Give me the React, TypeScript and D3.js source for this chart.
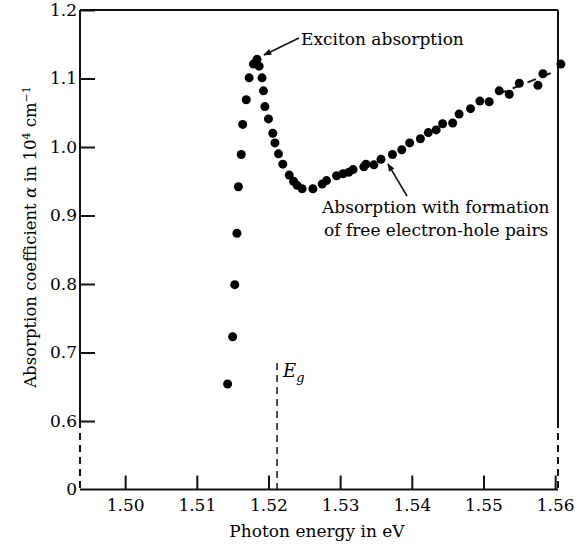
import React, { useEffect, useRef } from 'react';
import * as d3 from 'd3';

// photon energy (eV) and absorption coefficient (10^4 cm^-1)
const energy = [
  1.5143, 1.5150, 1.5153, 1.5156, 1.5158, 1.5162, 1.5164, 1.5169, 1.5173, 1.5179, 1.5184, 1.5187,
  1.5191, 1.5193, 1.5195, 1.5200, 1.5206, 1.5209, 1.5214, 1.5220, 1.5229, 1.5235, 1.5240, 1.5247,
  1.5262, 1.5275, 1.5281, 1.5295, 1.5304, 1.5312, 1.5318, 1.5333, 1.5336, 1.5347, 1.5357, 1.5373,
  1.5386, 1.5397, 1.5412, 1.5423, 1.5434, 1.5443, 1.5457, 1.5466, 1.5482, 1.5495, 1.5508, 1.5522,
  1.5536, 1.5550, 1.5576, 1.5583, 1.5608,
];
const alpha = [
  0.654, 0.723, 0.799, 0.874, 0.942, 0.989, 1.033, 1.069, 1.101, 1.121, 1.128, 1.118,
  1.101, 1.082, 1.059, 1.041, 1.020, 1.006, 0.990, 0.975, 0.959, 0.950, 0.944, 0.939,
  0.939, 0.946, 0.951, 0.958, 0.961, 0.963, 0.967, 0.971, 0.975, 0.974, 0.982, 0.989,
  0.996, 1.006, 1.012, 1.021, 1.025, 1.034, 1.035, 1.048, 1.056, 1.067, 1.066, 1.082,
  1.077, 1.093, 1.090, 1.107, 1.121,
];
const xTicks = [1.50, 1.51, 1.52, 1.53, 1.54, 1.55, 1.56];
const yTicks = [0.6, 0.7, 0.8, 0.9, 1.0, 1.1, 1.2];
const yBreak = 0.5; // axis is broken below 0.6, this level is labelled "0"
const gapEnergy = 1.5212;
const fitEnergy = [1.5520, 1.5604];
const fitAlpha = [1.077, 1.112];

const W = 587, H = 549;
const FONT = "'DejaVu Serif', serif";

export default function App() {
  const ref = useRef<SVGSVGElement>(null);

  useEffect(() => {
    const svg = d3.select(ref.current);
    svg.selectAll('*').remove();

    const left = 80, right = 558, top = 10, bottom = 489.5;
    const x = d3.scaleLinear().domain([1.4937, 1.5604]).range([left, right]);
    const y = d3.scaleLinear().domain([yBreak, 1.2]).range([bottom, top]);
    const ink = '#111';

    // frame: solid above 0.6, dashed through the break
    const frame = svg.append('g').attr('stroke', ink).attr('stroke-width', 2).attr('fill', 'none');
    frame.append('line').attr('x1', left).attr('x2', right).attr('y1', top).attr('y2', top);
    frame.append('line').attr('x1', left).attr('x2', right).attr('y1', bottom).attr('y2', bottom);
    [left, right].forEach(px => {
      frame.append('line').attr('x1', px).attr('x2', px).attr('y1', top).attr('y2', y(0.6));
      frame.append('line').attr('x1', px).attr('x2', px).attr('y1', y(0.6)).attr('y2', bottom)
        .attr('stroke-dasharray', '7,5');
    });

    const xAxis = svg.append('g')
      .attr('transform', 'translate(0,' + bottom + ')')
      .call(d3.axisBottom(x).tickValues(xTicks).tickFormat(d3.format('.2f')).tickSize(-14).tickPadding(9));
    const yAxis = svg.append('g')
      .attr('transform', 'translate(' + left + ',0)')
      .call(d3.axisLeft(y).tickValues(yTicks).tickFormat(d3.format('.1f')).tickSize(-15).tickPadding(3));
    [xAxis, yAxis].forEach(g => {
      g.select('.domain').remove();
      g.selectAll('line').attr('stroke', ink).attr('stroke-width', 2);
      g.selectAll('text').attr('font-family', FONT).attr('font-size', 17).attr('fill', '#000');
    });
    svg.append('text')
      .attr('x', left - 3).attr('y', y(yBreak)).attr('dy', '0.32em')
      .attr('text-anchor', 'end').attr('font-family', FONT).attr('font-size', 17)
      .text('0');

    // band gap marker
    svg.append('line')
      .attr('x1', x(gapEnergy)).attr('x2', x(gapEnergy))
      .attr('y1', 363).attr('y2', bottom)
      .attr('stroke', ink).attr('stroke-width', 1.5).attr('stroke-dasharray', '7,5');
    const eg = svg.append('text')
      .attr('x', x(gapEnergy) + 6).attr('y', 377)
      .attr('font-family', FONT).attr('font-size', 18).attr('font-style', 'italic');
    eg.append('tspan').text('E');
    eg.append('tspan').attr('dy', 5).attr('font-size', 13).text('g');

    // dashed fit line in the linear part
    svg.append('line')
      .attr('x1', x(fitEnergy[0])).attr('x2', x(fitEnergy[1]))
      .attr('y1', y(fitAlpha[0])).attr('y2', y(fitAlpha[1]))
      .attr('stroke', ink).attr('stroke-width', 2).attr('stroke-dasharray', '9,7');

    svg.append('g').selectAll('circle')
      .data(energy)
      .join('circle')
      .attr('cx', d => x(d))
      .attr('cy', (d, i) => y(alpha[i]))
      .attr('r', 4.5)
      .attr('fill', '#000');

    // annotations
    const defs = svg.append('defs');
    defs.append('marker')
      .attr('id', 'head').attr('viewBox', '0 0 10 10')
      .attr('refX', 9).attr('refY', 5)
      .attr('markerWidth', 10).attr('markerHeight', 8)
      .attr('markerUnits', 'userSpaceOnUse')
      .attr('orient', 'auto')
      .append('path').attr('d', 'M0,1 L10,5 L0,9 Z').attr('fill', ink);

    svg.append('line')
      .attr('x1', 299).attr('y1', 38).attr('x2', 264).attr('y2', 55)
      .attr('stroke', ink).attr('stroke-width', 1.5).attr('marker-end', 'url(#head)');
    svg.append('text')
      .attr('x', 301).attr('y', 45)
      .attr('font-family', FONT).attr('font-size', 17)
      .text('Exciton absorption');

    svg.append('line')
      .attr('x1', 407).attr('y1', 196).attr('x2', 388).attr('y2', 164)
      .attr('stroke', ink).attr('stroke-width', 1.5).attr('marker-end', 'url(#head)');
    const note = svg.append('text').attr('font-family', FONT).attr('font-size', 17);
    note.append('tspan').attr('x', 322).attr('y', 213).text('Absorption with formation');
    note.append('tspan').attr('x', 324).attr('y', 236).text('of free electron-hole pairs');

    // axis titles
    svg.append('text')
      .attr('x', 317).attr('y', 537)
      .attr('text-anchor', 'middle')
      .attr('font-family', FONT).attr('font-size', 17)
      .text('Photon energy in eV');

    const yl = svg.append('text')
      .attr('transform', 'translate(36,237) rotate(-90)')
      .attr('text-anchor', 'middle')
      .attr('font-family', FONT).attr('font-size', 16.5);
    yl.append('tspan').text('Absorption coefficient ');
    yl.append('tspan').attr('font-style', 'italic').text('α');
    yl.append('tspan').text(' in 10');
    yl.append('tspan').attr('dy', -6).attr('font-size', 11).text('4');
    yl.append('tspan').attr('dy', 6).text(' cm');
    yl.append('tspan').attr('dy', -6).attr('font-size', 11).text('−1');
  }, []);

  return (
    <svg ref={ref} width={W} height={H}
      style={{ position: 'absolute', left: 0, top: 0, background: '#fff' }} />
  );
}
